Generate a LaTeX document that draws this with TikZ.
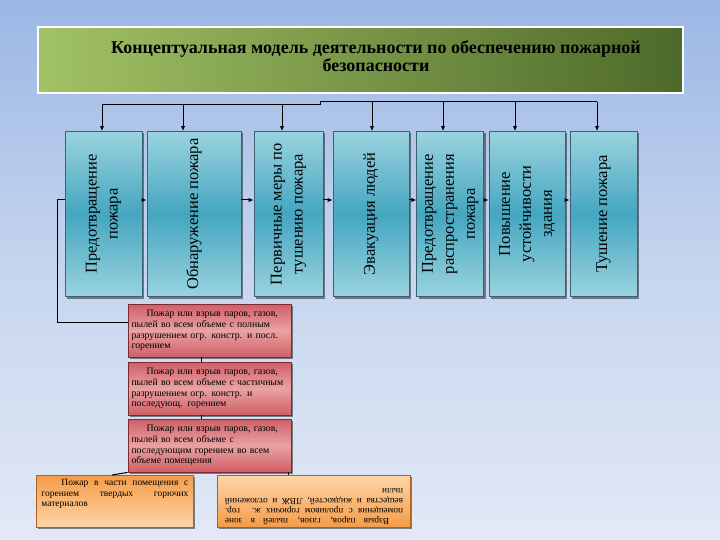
\documentclass[tikz,border=0pt]{standalone}
\usepackage{fontspec}
\setmainfont{Liberation Serif}
\usetikzlibrary{arrows.meta,shadows,calc}
\definecolor{bgTop}{HTML}{9BB7E4}
\definecolor{bgMid}{HTML}{C6D5EE}
\definecolor{bgBot}{HTML}{E2E9F6}
\definecolor{grL}{HTML}{A2C265}
\definecolor{grR}{HTML}{4E6A2A}
\definecolor{blueL}{HTML}{9AD3DE}
\definecolor{blueM}{HTML}{45A6C0}
\definecolor{blueEdge}{HTML}{3A6273}
\definecolor{redE}{HTML}{CF5F66}
\definecolor{redM}{HTML}{EAA2A2}
\definecolor{redEdge}{HTML}{7E2A30}
\definecolor{orD}{HTML}{F59C48}
\definecolor{orL}{HTML}{FDD6AA}
\definecolor{orEdge}{HTML}{B0601E}
\begin{document}
\begin{tikzpicture}[x=1pt,y=-1pt,
  shadowed/.style={drop shadow={shadow xshift=2pt,shadow yshift=-2pt,fill=black,opacity=.45}},
  titlebox/.style={left color=grL,right color=grR,draw=white,line width=1.5pt,inner sep=0pt},
  titletxt/.style={font=\bfseries\fontsize{18}{17.5}\selectfont,align=center,inner sep=0pt},
  bluebox/.style={shadowed,rotate=90,minimum width=165pt,inner sep=2pt,draw=blueEdge,line width=.9pt,
     top color=blueL,bottom color=blueL,middle color=blueM,font=\fontsize{16.5}{21}\selectfont,align=center},
  redbox/.style={shadowed,minimum width=163pt,minimum height=53pt,inner sep=0pt,draw=redEdge,line width=.8pt,
     top color=redE,bottom color=redE,middle color=redM,font=\fontsize{9.8}{10.8}\selectfont,align=left,text width=156pt},
  orbox/.style={shadowed,inner sep=0pt,draw=orEdge,line width=.8pt},
  arr/.style={-{Latex[length=5pt,width=4.5pt]},line width=1pt},
  link/.style={line width=1pt}]
\useasboundingbox (0,0) rectangle (720,540);
\shade[top color=bgTop,bottom color=bgBot,middle color=bgMid] (0,0) rectangle (720,540);

% title
\node[titlebox,minimum width=645pt,minimum height=66pt] (title) at (360.5,60) {};
\node[titletxt] (titletext) at (376,56) {Концептуальная модель деятельности по обеспечению пожарной\\безопасности};

% blue boxes
\node[bluebox,minimum height=77pt] (b1) at (103.5,214) {Предотвращение\\пожара};
\node[bluebox,minimum height=94pt] (b2) at (194,214) {Обнаружение пожара};
\node[bluebox,minimum height=69pt] (b3) at (288.5,214) {Первичные меры по\\тушению пожара};
\node[bluebox,minimum height=76pt] (b4) at (371,214) {Эвакуация людей};
\node[bluebox,minimum height=67pt] (b5) at (450.3,214) {Предотвращение\\распространения\\пожара};
\node[bluebox,minimum height=76pt] (b6) at (527,214) {Повышение\\устойчивости\\здания};
\node[bluebox,minimum height=67pt] (b7) at (603.5,214) {Тушение пожара};

% top distribution line
\coordinate (t1) at (102,105);
\coordinate (t2) at (183,105);
\coordinate (t3) at (282,105);
\coordinate (s1) at (320,105);
\coordinate (s2) at (320,102);
\coordinate (t4) at (372,102);
\coordinate (t5) at (443,102);
\coordinate (t6) at (515,102);
\coordinate (t7) at (597,102);
\draw[link] (t1) -- (s1) -- (s2) -- (t7);
\foreach \i in {1,...,7} \draw[arr] (t\i) -- (t\i |- b\i.east);

% horizontal arrows between boxes
\coordinate (hy) at (0,200);
\draw[arr] (b1.south |- hy) -- (b2.north |- hy);
\draw[arr] (b2.south |- hy) -- (b3.north |- hy);
\draw[arr] (b3.south |- hy) -- (b4.north |- hy);
\draw[arr] (b4.south |- hy) -- (b5.north |- hy);
\draw[arr] (b5.south |- hy) -- (b6.north |- hy);
\draw[arr] (b6.south |- hy) -- (b7.north |- hy);

% red boxes
\node[redbox] (rA) at (209.5,330.5) {\hspace*{15pt}Пожар или взрыв паров, газов,\\пылей во всем объеме с полным\\разрушением огр. констр. и посл.\\горением};
\node[redbox] (rB) at (209.5,388.5) {\hspace*{15pt}Пожар или взрыв паров, газов,\\пылей во всем объеме с частичным\\разрушением огр. констр. и\\последующ. горением};
\node[redbox] (rC) at (209.5,445.5) {\hspace*{15pt}Пожар или взрыв паров, газов,\\пылей во всем объеме с\\последующим горением во всем\\объеме помещения};

% left feedback line
\coordinate (lc1) at (57,200);
\coordinate (lc2) at (57,322);
\draw[link] (b1.north |- lc1) -- (lc1) -- (lc2) -- (rA.west |- lc2);

% links between red boxes
\coordinate (lk) at (201,0);
\draw[link] (rA.south -| lk) -- (rB.north -| lk);
\draw[link] (rB.south -| lk) -- (rC.north -| lk);

% orange boxes
\node[orbox,top color=orD,bottom color=orL,anchor=north west] (oL) at (36,475)
  {\parbox[c][52pt][t]{157pt}{\vspace{4pt}\hspace*{5pt}\parbox[t]{147pt}{\fontsize{9.5}{10.5}\selectfont\hspace*{20pt}Пожар в части помещения с\linebreak горением твердых горючих\linebreak материалов}}};
\node[orbox,top color=orL,bottom color=orD,rotate=180] (oR) at (313.5,501)
  {\parbox[c][52pt][t]{193pt}{\vspace{2pt}\hspace*{7pt}\parbox[t]{178pt}{\fontsize{9.3}{10}\selectfont\hspace*{14pt}Взрыв паров, газов, пылей в зоне\linebreak помещения с проливом горючих ж. гор.\linebreak вещества и жидкостей, ЛВЖ и отложений\linebreak пыли}}};

% links to orange boxes
\coordinate (olk) at (112,0);
\draw[link] (rC.south west) -- (oL.north -| olk);
\coordinate (ork) at (288,0);
\draw[link] (rC.south -| ork) -- (oR.south -| ork);
\end{tikzpicture}
\end{document}
